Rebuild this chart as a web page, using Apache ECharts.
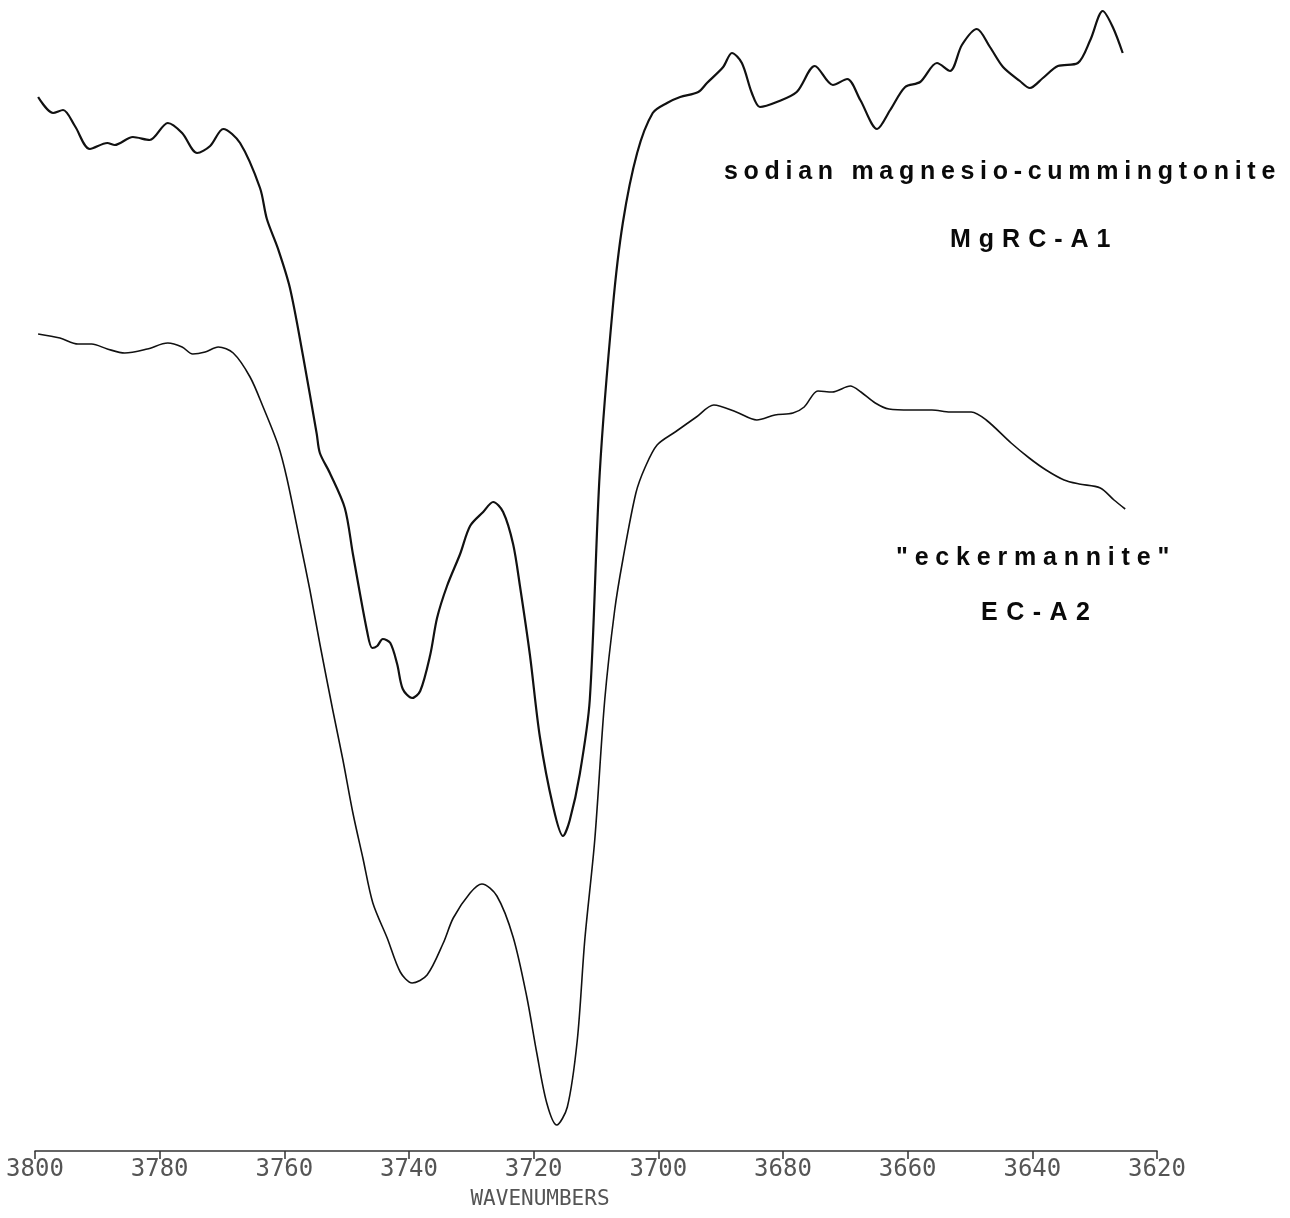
<!DOCTYPE html>
<html>
<head>
<meta charset="utf-8">
<script src="https://cdn.jsdelivr.net/npm/echarts@6/dist/echarts.min.js"></script>
<style>
  html, body { margin: 0; padding: 0; background: #fff; }
  #chart { width: 1290px; height: 1218px; }
</style>
</head>
<body>
<div id="chart"></div>
<script>
// Upper trace: sodian magnesio-cummingtonite MgRC-A1 (wavenumber, relative intensity)
const wavenumbersA = [3799.5, 3797.1, 3795.5, 3793.6, 3791.2, 3788.4, 3787.2, 3784.3, 3781.6, 3778.7,
  3776.4, 3774.0, 3771.9, 3769.8, 3767.1, 3763.9, 3762.8, 3761.0, 3759.1, 3757.0,
  3754.8, 3754.3, 3752.7, 3750.3, 3749.0, 3746.7, 3745.9, 3745.1, 3744.2, 3743.0,
  3741.9, 3741.0, 3739.5, 3738.2, 3736.6, 3735.5, 3733.9, 3731.8, 3730.2, 3728.1,
  3726.5, 3724.9, 3723.3, 3722.2, 3720.6, 3719.0, 3716.9, 3715.3, 3714.2, 3712.6,
  3711.0, 3709.4, 3707.3, 3705.7, 3703.4, 3700.9, 3698.6, 3696.5, 3693.6, 3692.2,
  3689.6, 3688.2, 3686.6, 3685.0, 3683.7, 3681.0, 3677.8, 3674.9, 3672.0, 3669.7,
  3667.6, 3664.9, 3662.8, 3660.4, 3658.0, 3655.3, 3653.2, 3651.3, 3648.9, 3646.8,
  3644.7, 3642.0, 3640.4, 3638.3, 3635.9, 3632.7, 3630.7, 3628.7, 3627.1, 3625.5];
const valuesA = [105.4, 103.8, 104.1, 102.5, 100.2, 100.8, 100.6, 101.4, 101.1, 102.8,
  101.8, 99.8, 100.5, 102.2, 100.8, 96.3, 93.2, 90.2, 86.3, 79.5,
  71.7, 69.8, 67.8, 64.3, 59.7, 51.9, 50.3, 50.5, 51.2, 50.8,
  48.7, 46.2, 45.3, 46.0, 49.6, 53.3, 56.5, 59.7, 62.5, 63.9,
  64.9, 63.9, 60.7, 56.5, 49.6, 41.4, 34.5, 31.5, 33.1, 37.7,
  45.1, 67.8, 84.4, 92.8, 99.8, 103.8, 104.8, 105.4, 105.9, 106.8,
  108.4, 109.8, 108.8, 105.8, 104.4, 104.9, 105.9, 108.5, 106.6, 107.2,
  105.1, 102.2, 104.1, 106.4, 106.9, 108.8, 108.0, 110.6, 112.2, 110.4,
  108.4, 107.0, 106.3, 107.3, 108.5, 108.8, 111.1, 114.0, 112.4, 109.8];

// Lower trace: "eckermannite" EC-A2
const wavenumbersB = [3799.5, 3796.0, 3793.1, 3790.9, 3788.4, 3785.6, 3782.0, 3778.7, 3776.4, 3774.7,
  3772.7, 3770.6, 3768.2, 3765.5, 3763.4, 3761.0, 3759.6, 3757.5, 3755.9, 3754.3,
  3752.2, 3750.6, 3749.0, 3747.4, 3745.8, 3743.5, 3741.4, 3739.5, 3737.1, 3734.5,
  3732.9, 3730.2, 3728.3, 3725.9, 3723.3, 3721.1, 3719.5, 3717.9, 3716.3, 3714.6,
  3713.0, 3711.8, 3710.2, 3708.6, 3707.0, 3705.7, 3703.6, 3702.1, 3700.2, 3697.3,
  3693.9, 3691.1, 3687.5, 3684.2, 3681.3, 3678.4, 3676.6, 3674.4, 3672.1, 3669.2,
  3667.5, 3665.2, 3663.0, 3659.5, 3656.1, 3653.2, 3649.8, 3647.4, 3643.4, 3640.5,
  3637.8, 3634.9, 3632.5, 3629.1, 3626.9, 3625.1];
const valuesB = [81.7, 81.3, 80.7, 80.7, 80.2, 79.8, 80.2, 80.8, 80.4, 79.7,
  79.9, 80.4, 79.8, 77.4, 74.4, 70.6, 67.3, 61.0, 56.1, 50.7,
  44.0, 39.1, 33.8, 29.3, 24.8, 21.3, 17.9, 16.8, 17.6, 20.8,
  23.3, 25.8, 26.7, 25.5, 21.4, 15.4, 9.8, 4.8, 2.6, 4.4,
  11.1, 21.1, 31.1, 45.1, 54.1, 59.1, 65.8, 68.4, 70.6, 71.9,
  73.4, 74.6, 73.9, 73.1, 73.6, 73.8, 74.4, 76.0, 75.9, 76.5,
  75.9, 74.8, 74.2, 74.1, 74.1, 73.9, 73.9, 73.1, 70.8, 69.3,
  68.1, 67.1, 66.7, 66.3, 65.1, 64.2];

const tickLabels = [3800, 3780, 3760, 3740, 3720, 3700, 3680, 3660, 3640, 3620];
const axisTitle = 'WAVENUMBERS';
const annotations = [
  { text: 'sodian magnesio-cummingtonite', left: 724, cy: 172, gap: 5.7 },
  { text: 'MgRC-A1', left: 950, cy: 240, gap: 8 },
  { text: '"eckermannite"', left: 896, cy: 558, gap: 6.8 },
  { text: 'EC-A2', left: 981, cy: 613, gap: 8.5 }
];

const pairs = (xs, ys) => xs.map((x, i) => [x, ys[i]]);

// Letter-spaced bold labels, laid out one glyph at a time
const LABEL_FONT = 'bold 25px "Liberation Sans"';
const measureCtx = document.createElement('canvas').getContext('2d');
measureCtx.font = LABEL_FONT;
const graphics = [];
annotations.forEach(a => {
  let x = a.left;
  for (const ch of a.text) {
    graphics.push({
      type: 'text', x: x, y: a.cy, silent: true,
      style: { text: ch, font: LABEL_FONT, fill: '#0a0a0a', align: 'left', verticalAlign: 'middle',
               textAlign: 'left', textVerticalAlign: 'middle' }
    });
    x += measureCtx.measureText(ch).width + a.gap;
  }
});
graphics.push({
  type: 'text', x: 540, y: 1200, silent: true,
  style: { text: axisTitle, font: '21px "DejaVu Sans Mono"', fill: '#555', align: 'center', verticalAlign: 'middle',
           textAlign: 'center', textVerticalAlign: 'middle' }
});

const chart = echarts.init(document.getElementById('chart'), null, { renderer: 'canvas' });
chart.setOption({
  animation: false,
  backgroundColor: '#ffffff',
  grid: { left: 35, right: 133, top: 1, bottom: 67, containLabel: false },
  xAxis: {
    type: 'value', min: 3620, max: 3800, interval: 20, inverse: true,
    axisLine: { show: true, lineStyle: { color: '#333', width: 1.5 } },
    axisTick: { show: true, inside: false, length: 8, lineStyle: { color: '#333', width: 1.5 } },
    splitLine: { show: false },
    axisLabel: {
      show: true, margin: 7, fontFamily: 'DejaVu Sans Mono', fontSize: 24, color: '#555',
      showMinLabel: true, showMaxLabel: true, hideOverlap: false,
      formatter: v => tickLabels.includes(v) ? String(v) : ''
    }
  },
  yAxis: { type: 'value', min: 0, max: 115, show: false },
  series: [
    {
      name: 'MgRC-A1', type: 'line', data: pairs(wavenumbersA, valuesA),
      showSymbol: false, smooth: 0.3, silent: true,
      lineStyle: { color: '#111', width: 2.2 }
    },
    {
      name: 'EC-A2', type: 'line', data: pairs(wavenumbersB, valuesB),
      showSymbol: false, smooth: 0.3, silent: true,
      lineStyle: { color: '#111', width: 1.6 }
    }
  ],
  graphic: graphics
});
</script>
</body>
</html>
